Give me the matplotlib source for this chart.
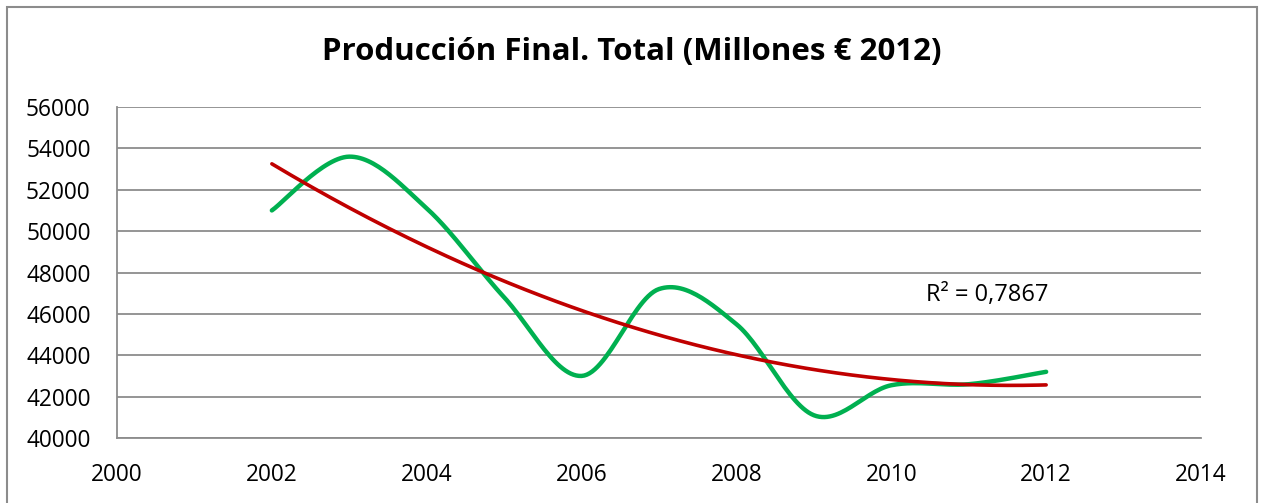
import numpy as np
import matplotlib
matplotlib.use("Agg")
import matplotlib.pyplot as plt
from matplotlib.patches import Rectangle

years = [2002, 2003, 2004, 2005, 2006, 2007, 2008, 2009, 2010, 2011, 2012]
values = [51000, 53600, 51100, 46800, 43000, 47200, 45500, 41100, 42550, 42600, 43200]
r2_label = "R² = 0,7867"
title = "Producción Final. Total (Millones € 2012)"
x_ticks = [2000, 2002, 2004, 2006, 2008, 2010, 2012, 2014]
y_ticks = [40000, 42000, 44000, 46000, 48000, 50000, 52000, 54000, 56000]

GREEN = "#00B050"
RED = "#C00000"
GRID = "#8C8C8C"


def smooth(xs, ys, steps=30):
    # Excel-like smoothed line: Catmull-Rom through the points
    x = np.asarray(xs, float)
    y = np.asarray(ys, float)
    px = np.concatenate([[x[0]], x, [x[-1]]])
    py = np.concatenate([[y[0]], y, [y[-1]]])
    outx, outy = [], []
    t = np.linspace(0, 1, steps)
    for i in range(1, len(px) - 2):
        for p, out in ((px, outx), (py, outy)):
            p0, p1, p2, p3 = p[i - 1], p[i], p[i + 1], p[i + 2]
            c1 = p1 + (p2 - p0) / 6
            c2 = p2 - (p3 - p1) / 6
            out.extend((1 - t) ** 3 * p1 + 3 * (1 - t) ** 2 * t * c1
                       + 3 * (1 - t) * t ** 2 * c2 + t ** 3 * p2)
    return np.array(outx), np.array(outy)


plt.rcParams["font.family"] = ["Open Sans", "DejaVu Sans"]

fig = plt.figure(figsize=(12.64, 5.03), dpi=100)
fig.patches.append(Rectangle((7 / 1264, -0.02), 1250 / 1264, 1.02 - 7 / 503,
                             transform=fig.transFigure, fill=False,
                             edgecolor="#8C8C8C", linewidth=1.5))
ax = fig.add_axes([117 / 1264, 1 - 438 / 503, 1084 / 1264, 331 / 503])

ax.set_xlim(2000, 2014)
ax.set_ylim(40000, 56000)
ax.set_xticks(x_ticks)
ax.set_yticks(y_ticks)
ax.grid(axis="y", color=GRID, linewidth=1.3)
ax.set_axisbelow(True)
for s in ("top", "right"):
    ax.spines[s].set_visible(False)
for s in ("left", "bottom"):
    ax.spines[s].set_color(GRID)
    ax.spines[s].set_linewidth(1.3)
ax.tick_params(length=0, labelsize=16.3)
ax.tick_params(axis="y", pad=19)
ax.tick_params(axis="x", pad=18)

sx, sy = smooth(years, values)
ax.plot(sx, sy, color=GREEN, linewidth=3.2, solid_capstyle="round", zorder=3)

coef = np.polyfit(years, values, 2)
tx = np.linspace(years[0], years[-1], 200)
ax.plot(tx, np.polyval(coef, tx), color=RED, linewidth=2.6, solid_capstyle="round", zorder=4)

ax.text(2010.45, 46900, r2_label, fontsize=17, va="center", ha="left")

fig.text(0.5, 1 - 52 / 503, title, fontsize=22.5,
         fontweight="bold", ha="center", va="center")

fig.savefig("out.png", dpi=100)
